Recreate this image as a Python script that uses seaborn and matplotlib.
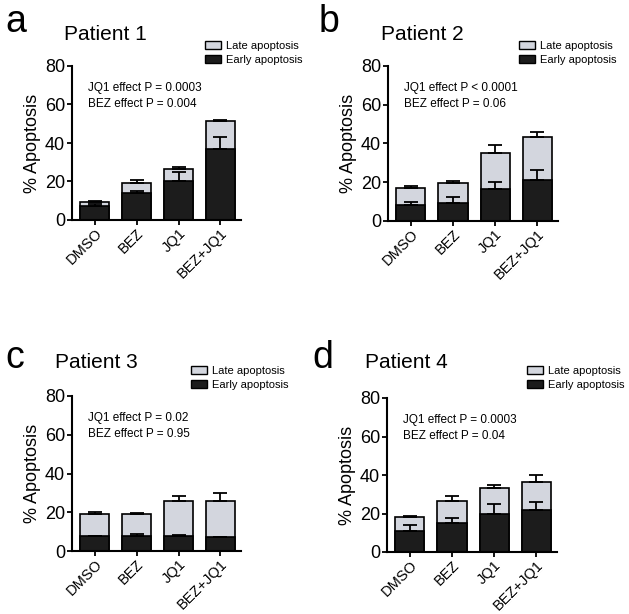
import matplotlib
matplotlib.use('Agg')
import matplotlib.pyplot as plt
import matplotlib.transforms as mtransforms
import numpy as np
import pandas as pd
import seaborn as sns
from matplotlib.patches import Patch

treatments = ['DMSO', 'BEZ', 'JQ1', 'BEZ+JQ1']

# total (late + early) apoptosis and its upper error, then early apoptosis
p1_total = [9.5, 19, 26.5, 51.5]
p1_total_err = [0.6, 1.6, 1.2, 0.6]
p1_early = [7.5, 14, 20, 37]
p1_early_err = [1.0, 1.0, 5.0, 6.0]

p2_total = [17, 19.5, 35, 43.5]
p2_total_err = [1.2, 1.0, 4.0, 2.2]
p2_early = [8, 9.5, 16.5, 21]
p2_early_err = [2.0, 3.0, 3.5, 5.5]

p3_total = [19, 19.2, 26, 26]
p3_total_err = [1.0, 0.3, 2.3, 4.0]
p3_early = [7.5, 8, 8, 7]
p3_early_err = [0.4, 1.0, 0.3, 0.0]

p4_total = [18, 26.5, 33, 36.5]
p4_total_err = [0.6, 2.5, 1.8, 3.5]
p4_early = [11, 15, 20, 22]
p4_early_err = [3.0, 2.5, 4.8, 3.8]

panels = [
    ('a', 'Patient 1', p1_total, p1_total_err, p1_early, p1_early_err,
     ['JQ1 effect P = 0.0003', 'BEZ effect P = 0.004']),
    ('b', 'Patient 2', p2_total, p2_total_err, p2_early, p2_early_err,
     ['JQ1 effect P < 0.0001', 'BEZ effect P = 0.06']),
    ('c', 'Patient 3', p3_total, p3_total_err, p3_early, p3_early_err,
     ['JQ1 effect P = 0.02', 'BEZ effect P = 0.95']),
    ('d', 'Patient 4', p4_total, p4_total_err, p4_early, p4_early_err,
     ['JQ1 effect P = 0.0003', 'BEZ effect P = 0.04']),
]

LATE = '#d3d6de'
EARLY = '#1c1c1c'

sns.set_theme(style='ticks')
plt.rcParams['font.family'] = ['Liberation Sans', 'DejaVu Sans']
plt.rcParams['text.color'] = 'black'
plt.rcParams['axes.labelcolor'] = 'black'

W, H = 629, 614
fig = plt.figure(figsize=(W / 100, H / 100), dpi=100)

# pixel boxes: left, top, right, bottom
boxes = [(72, 66, 241, 220), (388, 66, 558, 221), (72, 396, 241, 551), (387, 398, 557, 552)]
letter_pos = [(5, 22), (319, 22), (5, 358), (312, 358)]
title_pos = [(64, 35), (381, 35), (55, 363), (365, 363)]
legend_pos = [(205, 41), (519, 41), (191, 366), (527, 366)]

for (letter, title, total, total_err, early, early_err, ptxt), box, lp, tp, gp in zip(
        panels, boxes, letter_pos, title_pos, legend_pos):
    l, t, r, b = box
    ax = fig.add_axes([l / W, 1 - b / H, (r - l) / W, (b - t) / H])
    df = pd.DataFrame({'Treatment': treatments, 'total': total, 'early': early})

    # stacked look: total bar first, early bar drawn over it
    sns.barplot(data=df, x='Treatment', y='total', color=LATE, saturation=1,
                edgecolor='black', linewidth=1.2, width=0.69, errorbar=None, ax=ax)
    sns.barplot(data=df, x='Treatment', y='early', color=EARLY, saturation=1,
                edgecolor='black', linewidth=1.2, width=0.69, errorbar=None, ax=ax)

    # upper-only error bars
    x = np.arange(len(treatments))
    ax.errorbar(x, total, yerr=[np.zeros(4), total_err], fmt='none', ecolor='black',
                elinewidth=1.3, capsize=5.2, capthick=1.3, zorder=5)
    ax.errorbar(x, early, yerr=[np.zeros(4), early_err], fmt='none', ecolor='black',
                elinewidth=1.3, capsize=5.2, capthick=1.3, zorder=5)

    ax.set_ylim(0, 80)
    ax.set_xlim(-0.54, 3.49)
    ax.set_yticks([0, 20, 40, 60, 80])
    ax.set_xlabel('')
    ax.set_ylabel('% Apoptosis', fontsize=13, labelpad=3)
    ax.tick_params(axis='y', labelsize=13, width=1.3, length=3.5, pad=1.5, colors='black')
    ax.tick_params(axis='x', labelsize=10.5, width=1.3, length=3.5, pad=1, colors='black')
    plt.setp(ax.get_xticklabels(), rotation=45, ha='right', rotation_mode='anchor')
    for s in ['left', 'bottom']:
        ax.spines[s].set_linewidth(1.5)
        ax.spines[s].set_color('black')
    sns.despine(ax=ax)

    # p-value notes: x in axes fraction, y in data units
    trans = mtransforms.blended_transform_factory(ax.transAxes, ax.transData)
    ax.text(0.095, 68.6, ptxt[0], transform=trans, fontsize=8.5, va='center', ha='left')
    ax.text(0.095, 60.3, ptxt[1], transform=trans, fontsize=8.5, va='center', ha='left')

    fig.text(lp[0] / W, 1 - lp[1] / H, letter, fontsize=27, va='center', ha='left')
    fig.text(tp[0] / W, 1 - tp[1] / H, title, fontsize=15, va='center', ha='left')

    handles = [Patch(facecolor=LATE, edgecolor='black', linewidth=1),
               Patch(facecolor=EARLY, edgecolor='black', linewidth=1)]
    fig.legend(handles, ['Late apoptosis', 'Early apoptosis'], loc='upper left',
               bbox_to_anchor=(gp[0] / W, 1 - gp[1] / H), frameon=False, fontsize=8,
               borderpad=0, borderaxespad=0, handlelength=1.4, handleheight=0.75,
               handletextpad=0.45, labelspacing=0.35)

fig.savefig('out.png', dpi=100)
